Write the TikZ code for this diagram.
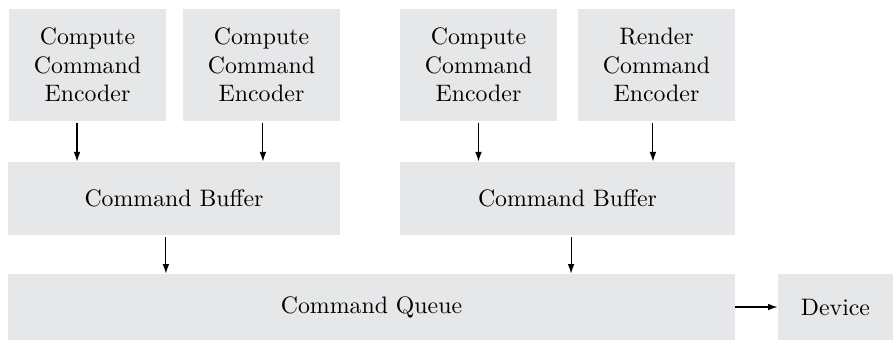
\documentclass[tikz,border=0pt]{standalone}
\usepackage{tikz}
\usetikzlibrary{arrows.meta}
\definecolor{boxgray}{RGB}{230,231,233}
\tikzset{
  block/.style={fill=boxgray,inner sep=0pt,align=center,font=\fontsize{10}{12}\selectfont},
  encoder/.style={block,minimum width=65.9pt,minimum height=47pt},
  buffer/.style={block,minimum height=30.7pt},
  flow/.style={-{Latex[length=4pt,width=2.8pt]},line width=0.45pt}
}
\begin{document}
\begin{tikzpicture}[x=0.42pt,y=0.42pt]
\useasboundingbox (0,0) rectangle (893,340);
% encoders
\node[encoder] (enc1) at (87.5,275) {Compute\\Command\\Encoder};
\node[encoder] (enc2) at (261.5,275) {Compute\\Command\\Encoder};
\node[encoder] (enc3) at (478.5,275) {Compute\\Command\\Encoder};
\node[encoder] (enc4) at (656.5,275) {Render\\Command\\Encoder};
% buffers
\node[buffer,minimum width=139.4pt] (buf1) at (174,141.5) {Command Buffer};
\node[buffer,minimum width=140.7pt] (buf2) at (567.5,141.5) {Command Buffer};
% queue and device
\node[block,minimum width=305.3pt,minimum height=27.7pt] (queue) at (371.5,33) {Command Queue};
\node[block,minimum width=48.3pt,minimum height=27.7pt] (dev) at (835.5,33) {Device};
% arrows
\draw[flow] ([xshift=-4.4pt,yshift=-0.8pt]enc1.south) -- ([xshift=-4.4pt]enc1.south |- buf1.north);
\draw[flow] ([xshift=0.6pt,yshift=-0.8pt]enc2.south) -- ([xshift=0.6pt]enc2.south |- buf1.north);
\draw[flow] ([yshift=-0.8pt]enc3.south) -- (enc3.south |- buf2.north);
\draw[flow] ([xshift=-1.5pt,yshift=-0.8pt]enc4.south) -- ([xshift=-1.5pt]enc4.south |- buf2.north);
\draw[flow] ([xshift=-3.4pt,yshift=-0.8pt]buf1.south) -- ([xshift=-3.4pt]buf1.south |- queue.north);
\draw[flow] ([xshift=1.5pt,yshift=-0.8pt]buf2.south) -- ([xshift=1.5pt]buf2.south |- queue.north);
\draw[flow] (queue.east) -- (dev.west);
\end{tikzpicture}
\end{document}
